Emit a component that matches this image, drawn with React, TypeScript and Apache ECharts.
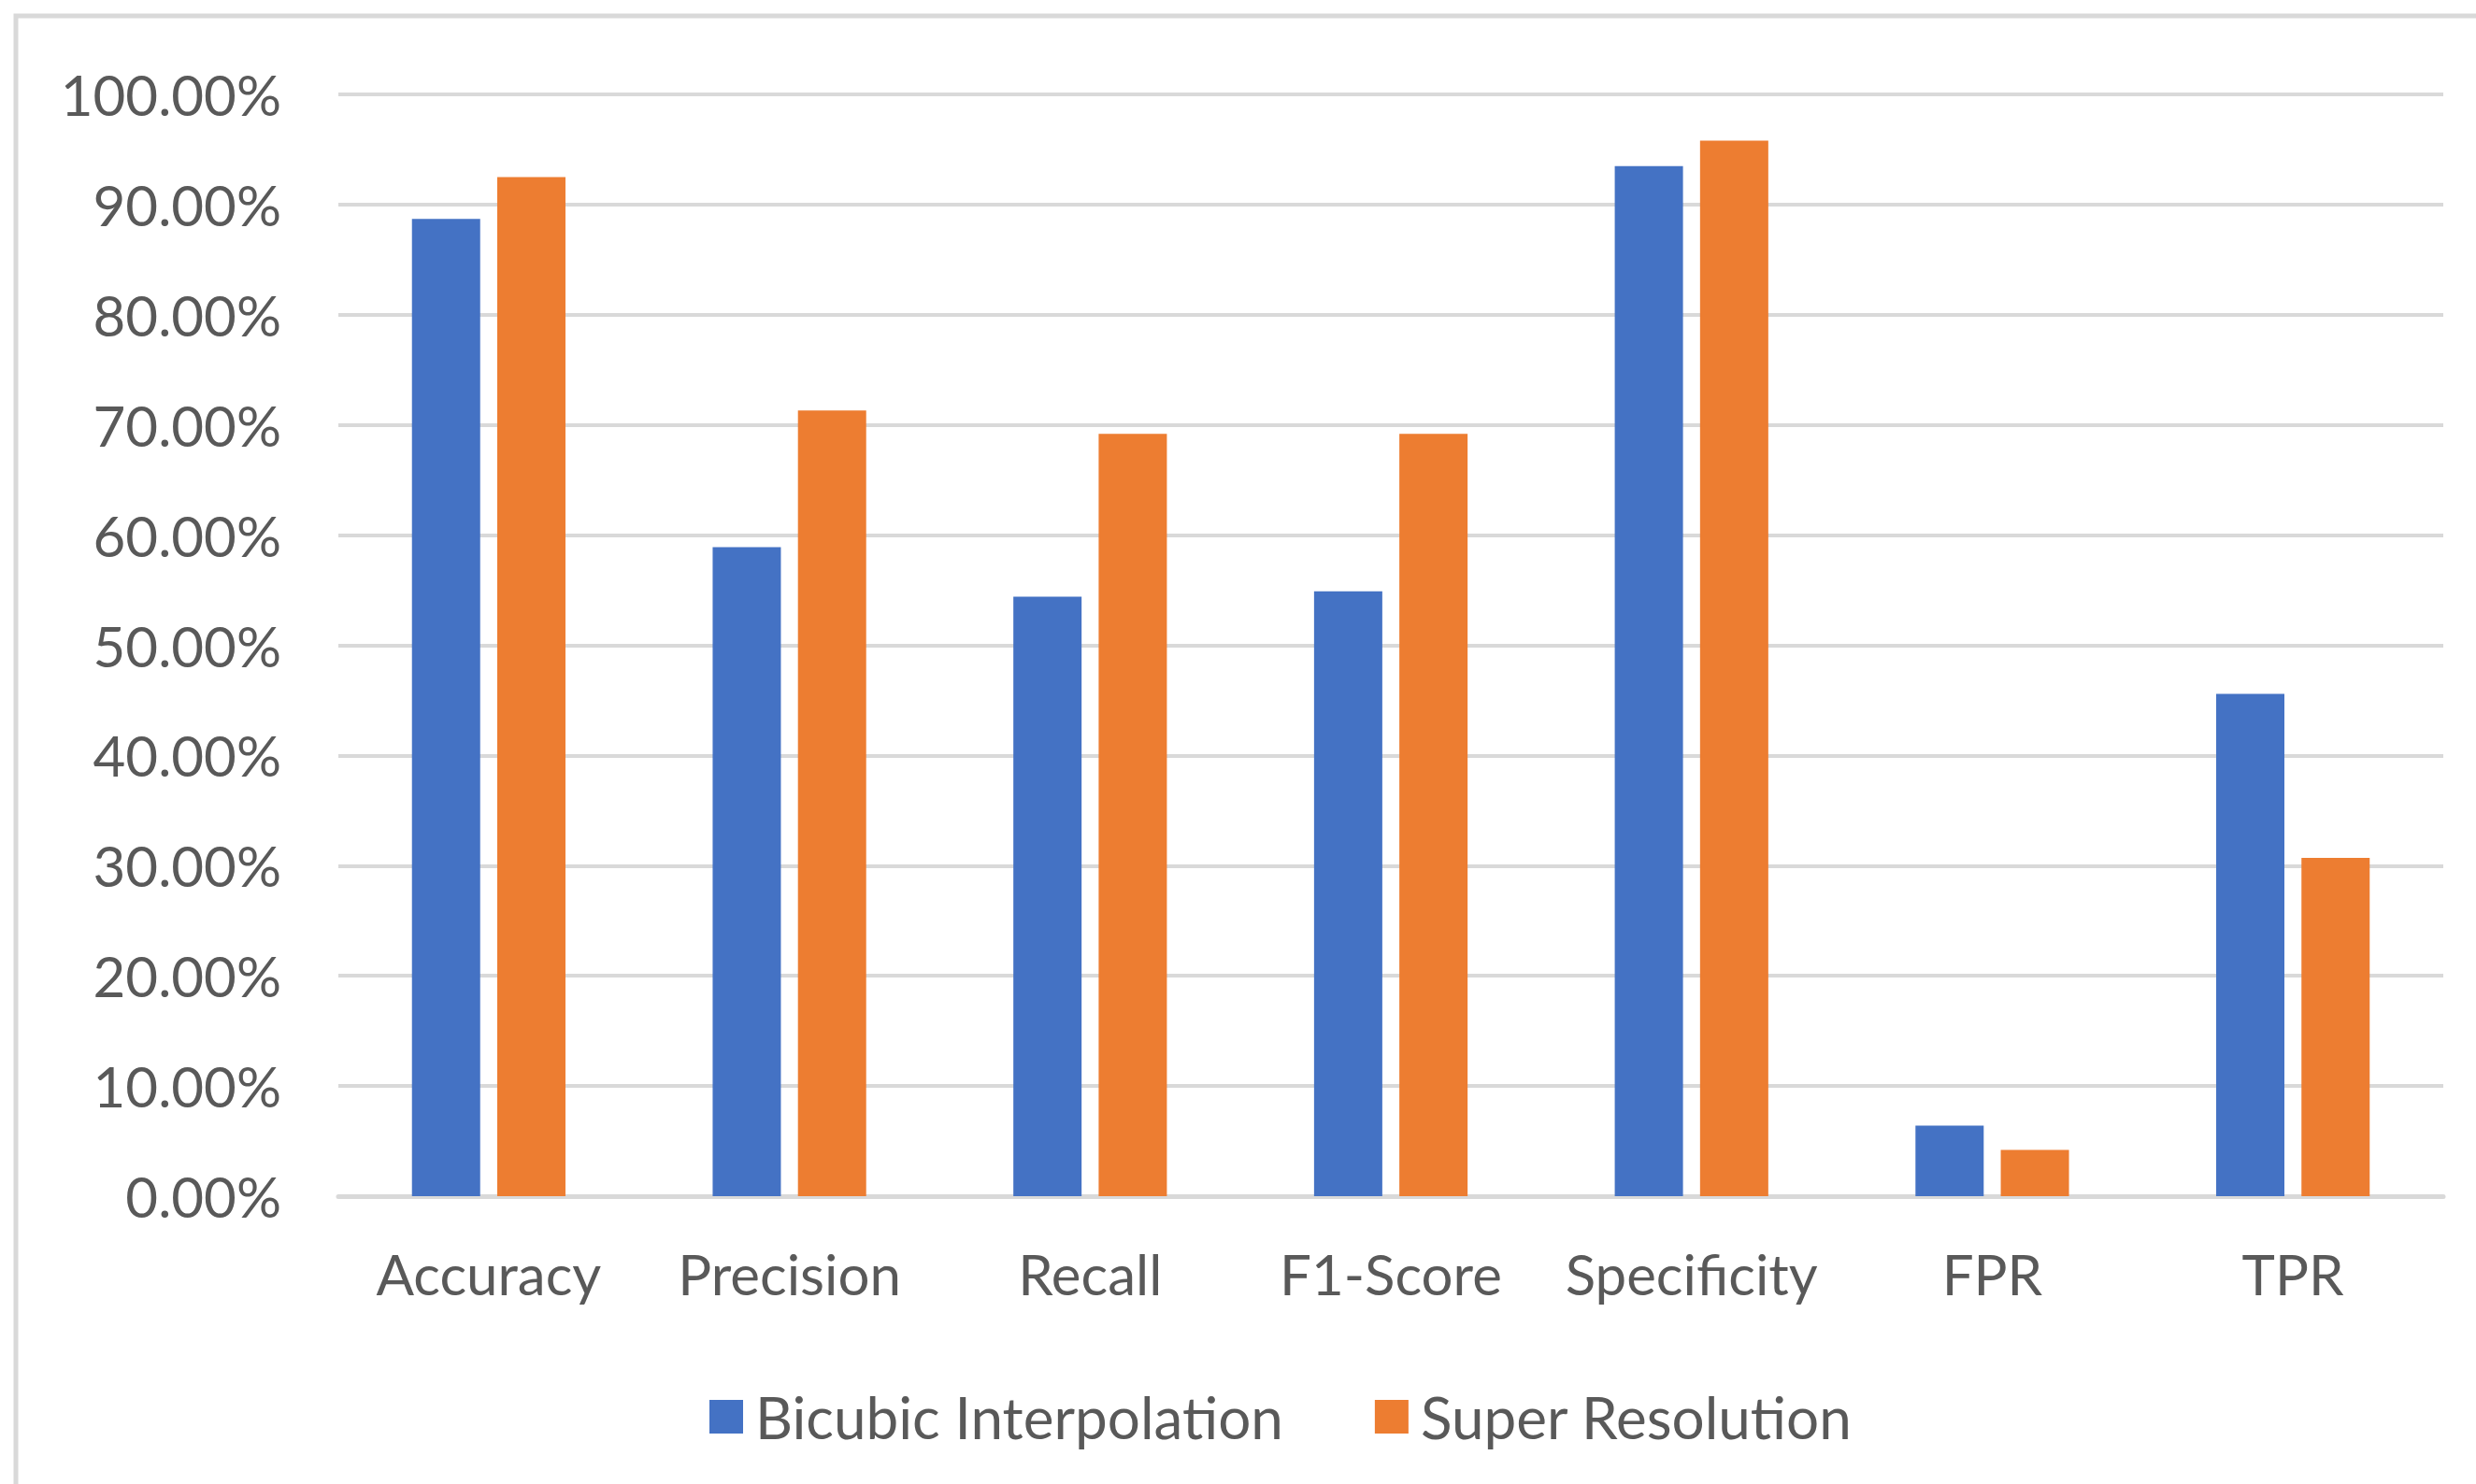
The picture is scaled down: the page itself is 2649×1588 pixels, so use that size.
import React, { useEffect, useRef } from "react";
import * as echarts from "echarts";

const categories = ["Accuracy", "Precision", "Recall", "F1-Score", "Specificity", "FPR", "TPR"];
const bicubic = [0.887, 0.589, 0.544, 0.549, 0.935, 0.064, 0.456];
const superRes = [0.925, 0.713, 0.692, 0.692, 0.958, 0.042, 0.307];
const seriesNames = ["Bicubic Interpolation", "Super Resolution"];

export default function App() {
  const ref = useRef<HTMLDivElement>(null);
  useEffect(() => {
    const chart = echarts.init(ref.current!, null, { renderer: "svg" });
    const font = "Lato";
    chart.setOption({
      animation: false,
      backgroundColor: "#ffffff",
      textStyle: { fontFamily: font },
      graphic: [
        {
          type: "rect",
          shape: { x: 17, y: 17, width: 3000, height: 3000 },
          style: { fill: "none", stroke: "#D9D9D9", lineWidth: 5 },
          silent: true,
        },
      ],
      grid: { left: 362, right: 35, top: 101, bottom: 308, containLabel: false },
      legend: {
        left: 754,
        top: 1480,
        itemWidth: 36,
        itemHeight: 36,
        itemGap: 98,
        icon: "rect",
        textStyle: { fontFamily: font, fontSize: 62, color: "#595959", padding: [0, 0, 0, 8] },
        data: seriesNames,
      },
      xAxis: {
        type: "category",
        data: categories,
        axisTick: { show: false },
        axisLine: { lineStyle: { color: "#D9D9D9", width: 5 } },
        axisLabel: { fontFamily: font, fontSize: 60, color: "#595959", margin: 53, interval: 0 },
      },
      yAxis: {
        type: "value",
        min: 0,
        max: 1,
        interval: 0.1,
        axisLine: { show: false },
        axisTick: { show: false },
        splitLine: { lineStyle: { color: "#D9D9D9", width: 4 } },
        axisLabel: {
          fontFamily: font,
          fontSize: 60,
          color: "#595959",
          margin: 61,
          formatter: (v: number) => (v * 100).toFixed(2) + "%",
        },
      },
      series: [
        {
          name: seriesNames[0],
          type: "bar",
          data: bicubic,
          barWidth: 73,
          barGap: "25%",
          itemStyle: { color: "#4472C4" },
        },
        {
          name: seriesNames[1],
          type: "bar",
          data: superRes,
          barWidth: 73,
          itemStyle: { color: "#ED7D31" },
        },
      ],
    });
    return () => chart.dispose();
  }, []);
  return (
    <div
      ref={ref}
      style={{ position: "fixed", left: 0, top: 0, width: 2649, height: 1588 }}
    />
  );
}
